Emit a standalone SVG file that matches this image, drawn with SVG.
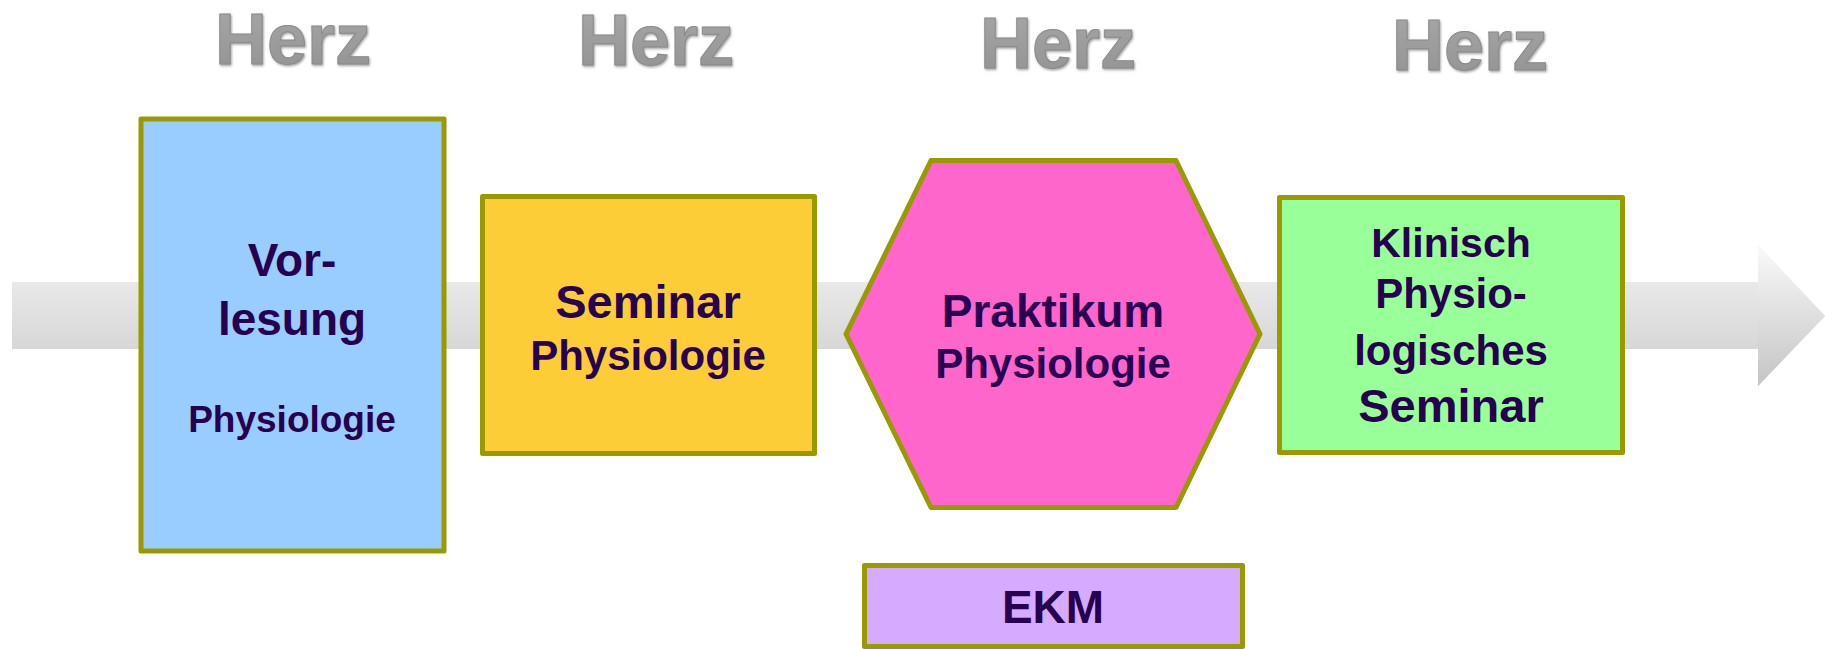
<svg xmlns="http://www.w3.org/2000/svg" width="1825" height="649" viewBox="0 0 1825 649">
<style>
.node{stroke:#999900;stroke-width:5;stroke-linejoin:round}
.t{font-family:"Liberation Sans",Arial,sans-serif;font-weight:bold;fill:#280050;text-anchor:middle}
.herz{font-family:"Liberation Sans",Arial,sans-serif;font-weight:bold;font-size:72px;fill:url(#herzGrad);stroke:#8a8a8a;stroke-width:1;text-anchor:middle;filter:url(#emboss)}
</style>
<defs>
<linearGradient id="shaftGrad" x1="0" y1="0" x2="0" y2="1">
<stop offset="0" stop-color="#f3f3f3"/>
<stop offset="1" stop-color="#cdcdcd"/>
</linearGradient>
<linearGradient id="headGrad" x1="0" y1="0" x2="0" y2="1">
<stop offset="0" stop-color="#fafafa"/>
<stop offset="1" stop-color="#c4c4c4"/>
</linearGradient>
<linearGradient id="herzGrad" x1="0" y1="0" x2="0" y2="1">
<stop offset="0" stop-color="#a8a8a8"/>
<stop offset="1" stop-color="#929292"/>
</linearGradient>
<filter id="emboss" x="-10%" y="-10%" width="130%" height="140%">
<feDropShadow dx="1" dy="1.5" stdDeviation="0.8" flood-color="#666666" flood-opacity="0.6"/>
</filter>
</defs>
<rect width="1825" height="649" fill="#ffffff"/>
<g id="connectors">
<path d="M12,282 H1758 V245 L1825,316 L1758,386 V349 H12 Z" fill="url(#shaftGrad)"/>
<path d="M1758,282 V245 L1825,316 L1758,386 V349 Z" fill="url(#headGrad)"/>
</g>
<g id="labels">
<text class="herz" x="293" y="64">Herz</text>
<text class="herz" x="656" y="65">Herz</text>
<text class="herz" x="1058" y="68">Herz</text>
<text class="herz" x="1470" y="70">Herz</text>
</g>
<g id="vorlesung">
<rect class="node" x="141" y="119" width="303" height="432" fill="#99ccff"/>
<text class="t" x="292" y="276" font-size="46">Vor-</text>
<text class="t" x="292" y="335" font-size="46">lesung</text>
<text class="t" x="292" y="432" font-size="37">Physiologie</text>
</g>
<g id="seminar">
<rect class="node" x="482.5" y="196.5" width="332" height="257" fill="#fdcd37"/>
<text class="t" x="648" y="318" font-size="47">Seminar</text>
<text class="t" x="648" y="370" font-size="42">Physiologie</text>
</g>
<g id="praktikum">
<polygon class="node" points="846,334 931,160.5 1176,160.5 1260,334 1176,507.5 931,507.5" fill="#ff66cc"/>
<text class="t" x="1053" y="327" font-size="46">Praktikum</text>
<text class="t" x="1053" y="378" font-size="42">Physiologie</text>
</g>
<g id="klinisch">
<rect class="node" x="1279.5" y="197.5" width="343" height="255" fill="#99ff99"/>
<text class="t" x="1451" y="257" font-size="41">Klinisch</text>
<text class="t" x="1451" y="308" font-size="42">Physio-</text>
<text class="t" x="1451" y="365" font-size="42">logisches</text>
<text class="t" x="1451" y="422" font-size="47">Seminar</text>
</g>
<g id="ekm">
<rect class="node" x="864.5" y="565.5" width="378" height="81" fill="#d6aaff"/>
<text class="t" x="1053" y="623" font-size="46">EKM</text>
</g>
</svg>
